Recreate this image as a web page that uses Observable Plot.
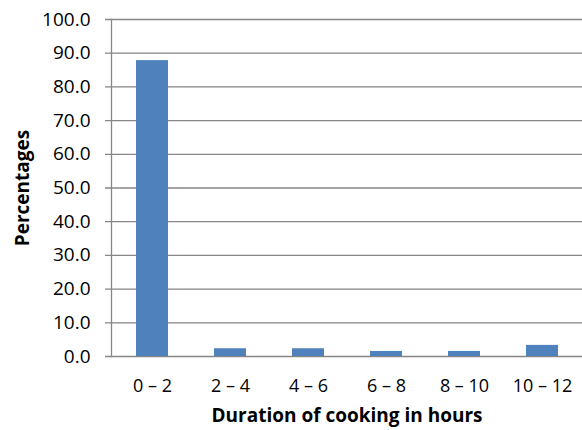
<!DOCTYPE html>
<html>
<head>
<meta charset="utf-8">
<script src="https://cdn.jsdelivr.net/npm/d3@7"></script>
<script src="https://cdn.jsdelivr.net/npm/@observablehq/plot@0.6"></script>
<style>
  body { margin: 0; background: #fff; }
  #chart { width: 582px; height: 430px; }
</style>
</head>
<body>
<div id="chart"></div>
<script>
const categories = ["0 – 2", "2 – 4", "4 – 6", "6 – 8", "8 – 10", "10 – 12"];
const values = [87.8, 2.3, 2.3, 1.5, 1.5, 3.3];
const yTicks = [0, 10, 20, 30, 40, 50, 60, 70, 80, 90, 100];

const data = categories.map((c, i) => ({category: c, value: values[i]}));
const font = "'Open Sans', sans-serif";

const chart = Plot.plot({
  width: 582,
  height: 430,
  marginLeft: 111,
  marginRight: 0,
  marginTop: 19,
  marginBottom: 74,
  style: {fontFamily: font, fontSize: "19px", color: "#000", background: "#fff"},
  x: {domain: categories, paddingInner: 0.59, paddingOuter: 0.295, label: null},
  y: {domain: [0, 100], label: null},
  marks: [
    Plot.ruleY(yTicks, {stroke: "#868686", strokeWidth: 1.3, insetLeft: -6}),
    Plot.frame({anchor: "left", stroke: "#868686", strokeWidth: 1.3}),
    Plot.barY(data, {x: "category", y: "value", fill: "#4F81BD"}),
    Plot.axisY(yTicks, {tickSize: 0, tickPadding: 21, tickFormat: d => d.toFixed(1), fontSize: 19, label: null}),
    Plot.axisY([], {label: "Percentages", labelAnchor: "center", labelOffset: 96, labelArrow: "none", fontWeight: "bold", fontSize: 19, tickSize: 0}),
    Plot.axisX({tickSize: 0, tickPadding: 23, fontSize: 18, label: null}),
    Plot.text(["Duration of cooking in hours"], {frameAnchor: "bottom", dy: 65, fontWeight: "bold", fontSize: 19})
  ]
});
document.getElementById("chart").appendChild(chart);
</script>
</body>
</html>
